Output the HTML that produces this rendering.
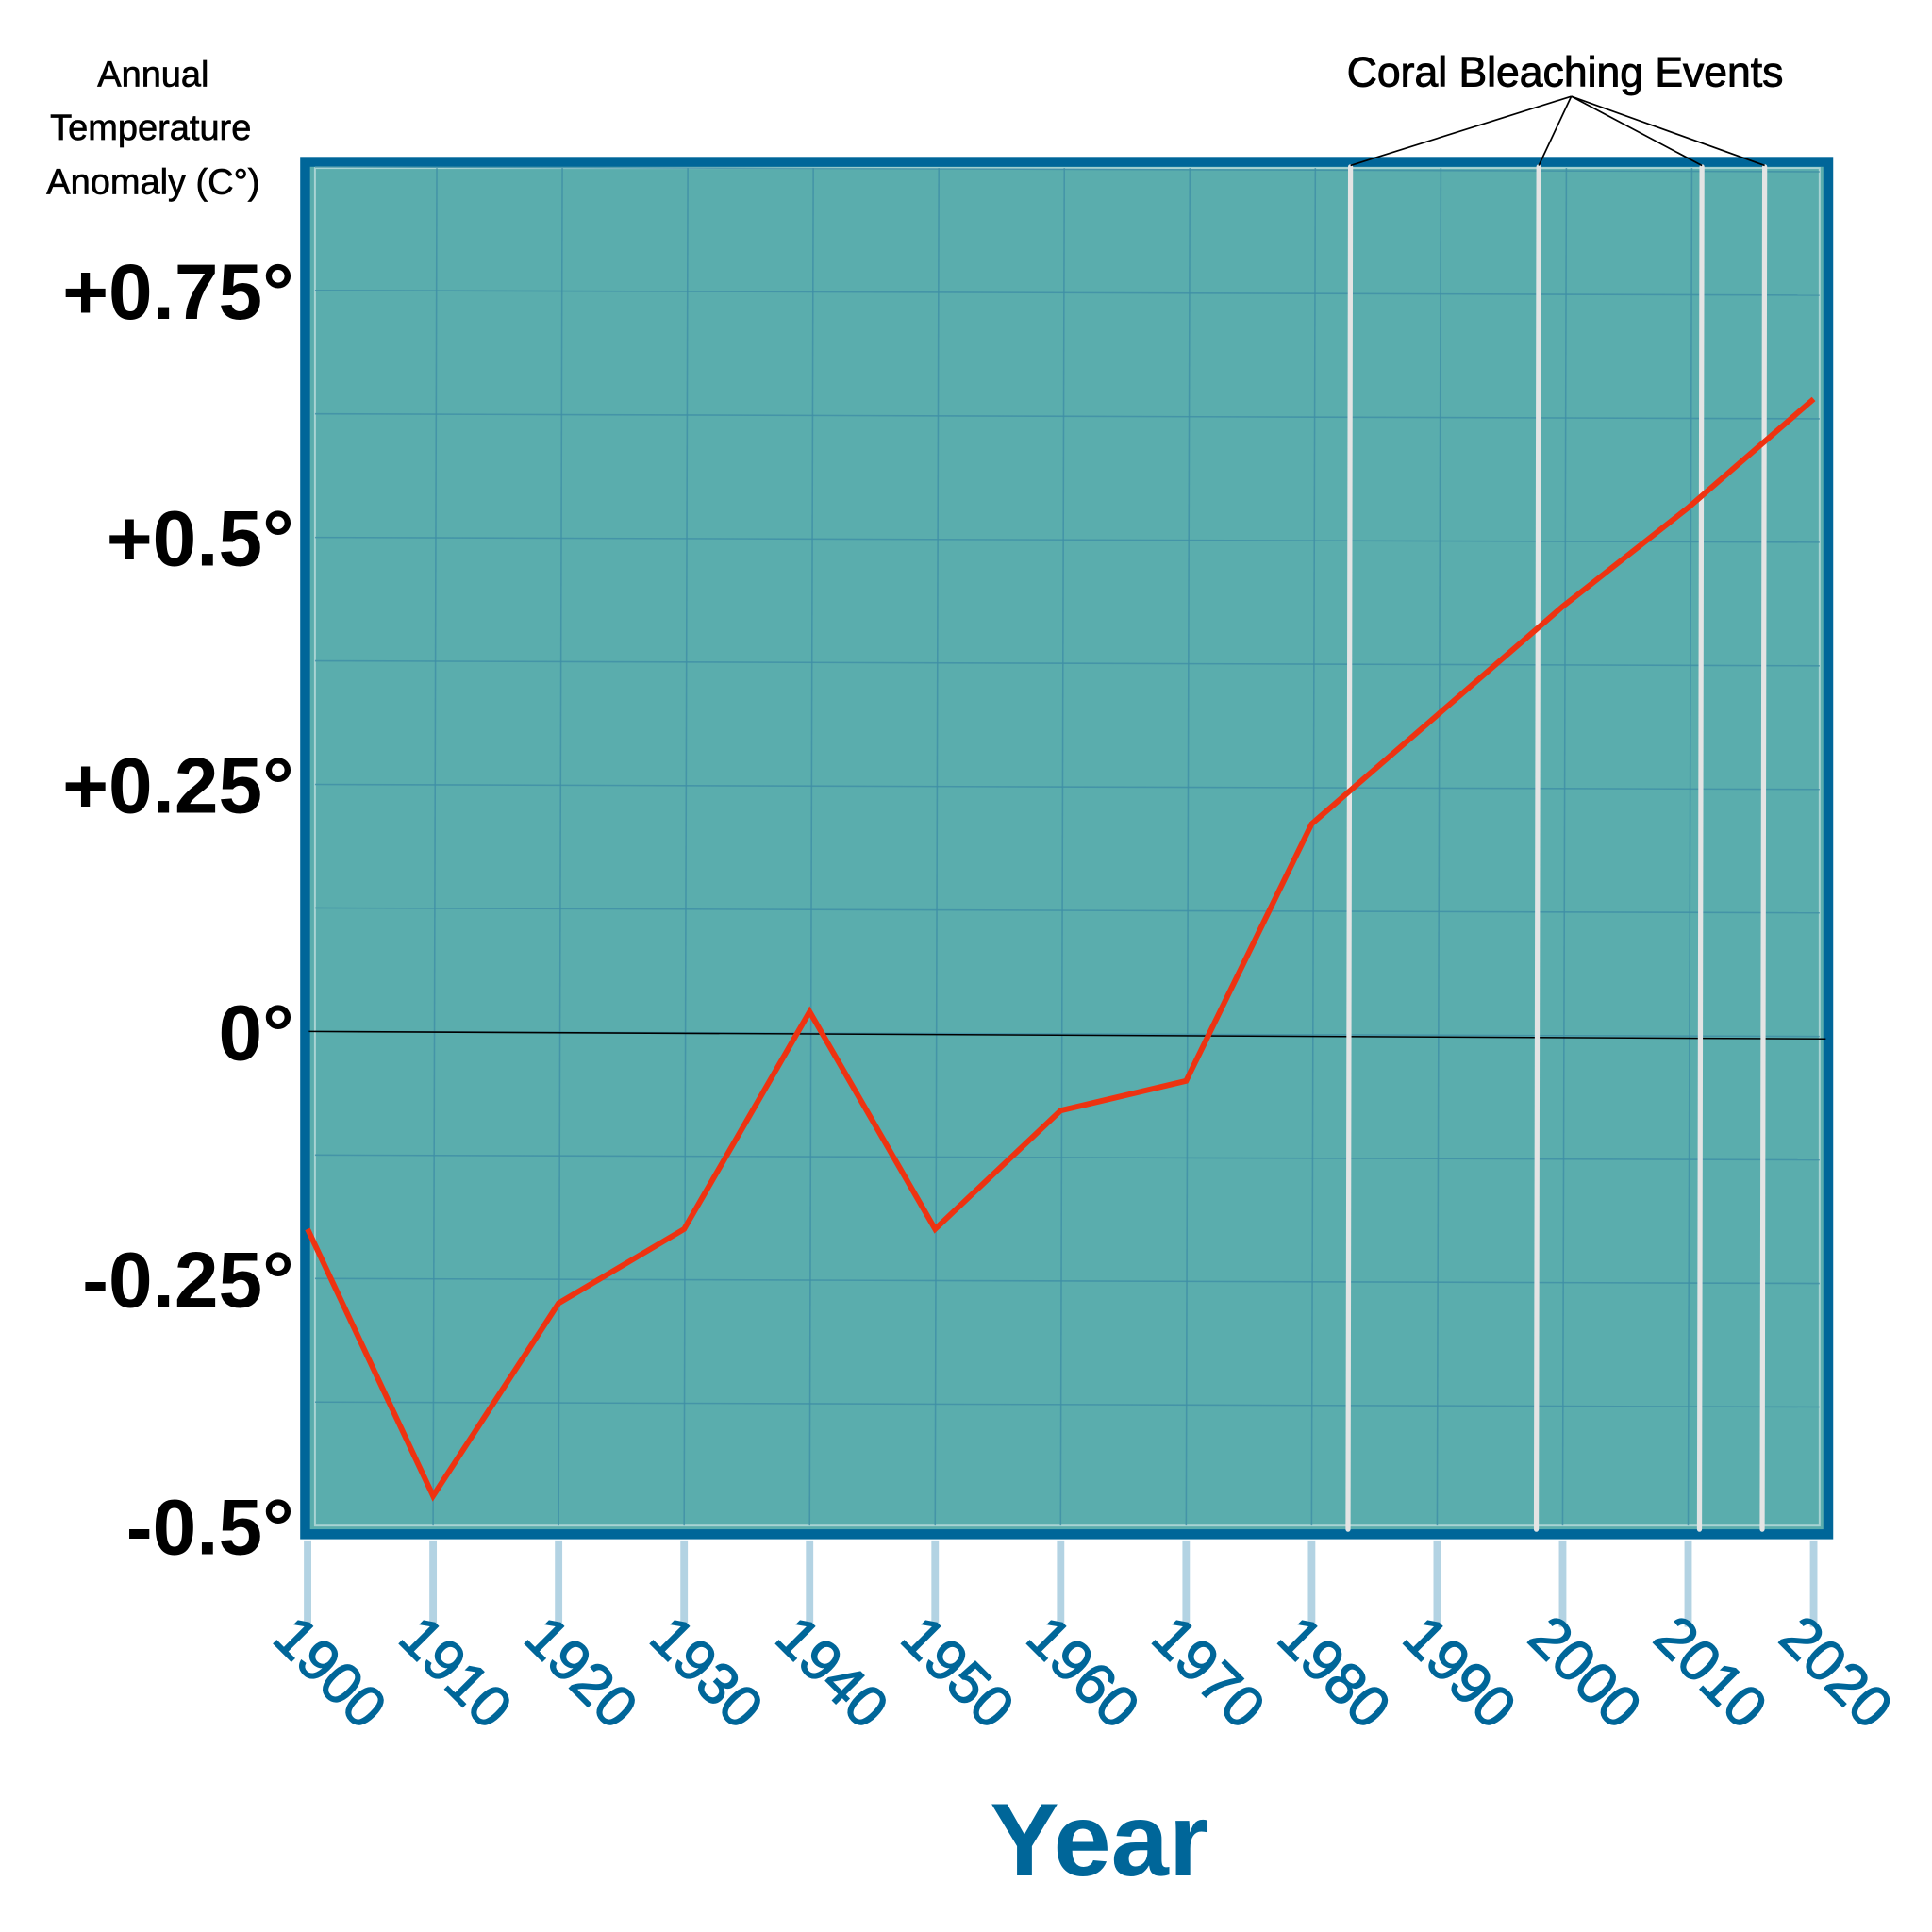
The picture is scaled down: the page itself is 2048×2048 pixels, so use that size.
<!DOCTYPE html>
<html><head><meta charset="utf-8"><style>
html,body{margin:0;padding:0;background:#fff;}
svg{display:block;}
text{font-family:"Liberation Sans",sans-serif;}
</style></head><body>
<svg id="chart" width="2048" height="2048" viewBox="0 0 1564 1564" xmlns="http://www.w3.org/2000/svg">
<g id="frame"></g>
<g id="grid"></g>
<g id="bleach"></g>
<g id="series"></g>
<g id="axes"></g>
<text x="124" y="70" text-anchor="middle" font-size="29" stroke="#000" stroke-width="0.5">Annual</text>
<text x="122" y="113" text-anchor="middle" font-size="29" stroke="#000" stroke-width="0.5">Temperature</text>
<text x="124" y="157" text-anchor="middle" font-size="29" stroke="#000" stroke-width="0.5">Anomaly (C°)</text>
<text x="1267" y="70" text-anchor="middle" font-size="34" stroke="#000" stroke-width="0.7">Coral Bleaching Events</text>
<text x="890" y="1518" text-anchor="middle" font-size="84" font-weight="bold" fill="#006699">Year</text>
</svg>
<script>
const years=[1900,1910,1920,1930,1940,1950,1960,1970,1980,1990,2000,2010,2020];
const anomalies=[-0.2,-0.47,-0.275,-0.2,0.02,-0.2,-0.08,-0.05,0.21,0.32,0.43,0.53,0.64];
const yTicks=[0.75,0.5,0.25,0,-0.25,-0.5];
const yTickLabels=["+0.75°","+0.5°","+0.25°","0°","-0.25°","-0.5°"];
const bleachYears=[1983,1998,2011,2016];
const NS="http://www.w3.org/2000/svg";
const x=v=>249+(v-1900)*10.16;
const y=v=>835-v*800;
function mk(tag,attrs,parent){const e=document.createElementNS(NS,tag);for(const k in attrs)e.setAttribute(k,attrs[k]);document.getElementById(parent).appendChild(e);return e;}
let e;
e=mk('rect',{x:247,y:131,width:1233,height:1111,fill:'#5aadad',stroke:'#006699','stroke-width':8},'frame');


e=mk('rect',{x:255,y:136,width:1218,height:1099,fill:'none',stroke:'#a9d3d3','stroke-width':1.5},'frame');


for(let v=-0.375;v<=0.875;v+=0.125){
 e=mk('line',{x1:255,x2:1473,y1:y(v),y2:y(v)+4,stroke:'#3f8fa6','stroke-width':1.2,opacity:0.8},'grid');
 
 
}
years.forEach(yr=>{
 if(yr===1900||yr===2020)return;
 e=mk('line',{x1:x(yr)+3,x2:x(yr),y1:136,y2:1235,stroke:'#3f8fa6','stroke-width':1.2,opacity:0.8},'grid');
 
 
});
e=mk('line',{x1:250,y1:835,x2:1478,y2:841,stroke:'#000','stroke-width':1.2},'grid');


bleachYears.forEach(b=>{
 const bx=x(b)+1;
 e=mk('line',{x1:bx,x2:bx-2,y1:135,y2:1238,stroke:'#e4e4e4','stroke-width':4,'stroke-linecap':'round'},'bleach');
 
 
 e=mk('line',{x1:1272,y1:78,x2:bx,y2:134,stroke:'#000','stroke-width':1.3},'bleach');
 
 
});
e=mk('polyline',{points:years.map((yr,i)=>x(yr)+','+y(anomalies[i])).join(' '),fill:'none',stroke:'#ee3311','stroke-width':4.5,'stroke-linejoin':'miter'},'series');


yTicks.forEach((t,i)=>{
 e=mk('text',{x:238,y:y(t)+23,'text-anchor':'end','font-size':64,'font-weight':'bold',fill:'#000'},'axes');
 e.textContent=yTickLabels[i];
 
 
});
years.forEach(yr=>{
 e=mk('line',{x1:x(yr),x2:x(yr),y1:1247,y2:1317,stroke:'#b3d3e3','stroke-width':6},'axes');
 
 
 e=mk('text',{x:0,y:0,'font-size':47,fill:'#006699',stroke:'#006699','stroke-width':1,transform:`translate(${x(yr)-30},${1328}) rotate(45)`},'axes');
 e.textContent=String(yr);
 
 
});
</script>
</body></html>
